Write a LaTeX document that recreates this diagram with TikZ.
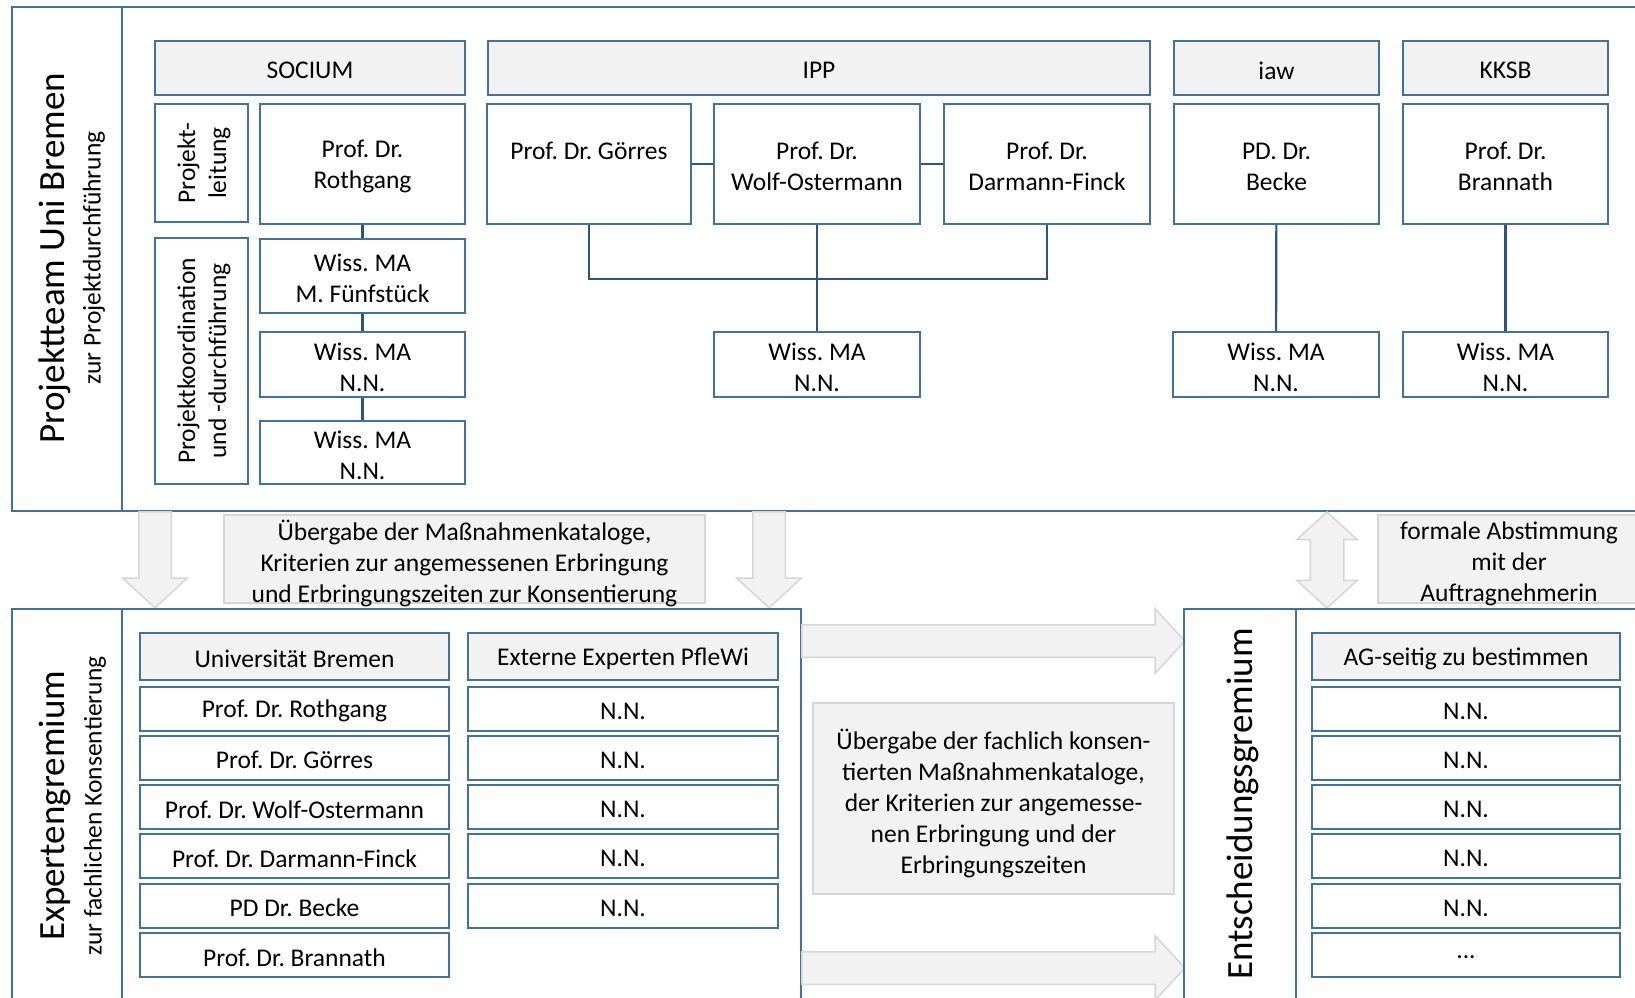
\documentclass[tikz,border=0pt]{standalone}
\usepackage{fontspec}
\setmainfont{Carlito}
\usepackage{tikz}
\usetikzlibrary{positioning,calc,shapes.arrows}
\definecolor{boxblue}{RGB}{65,113,156}
\definecolor{lineblue}{RGB}{44,84,130}
\definecolor{headgray}{RGB}{242,242,242}
\definecolor{edgegray}{RGB}{214,214,214}
\frenchspacing

\begin{document}
\begin{tikzpicture}[
    x=1pt, y=-1pt,
    every node/.style={font=\fontsize{25.5}{31}\selectfont, inner sep=0pt},
    lowtext/.style={execute at begin node={\vbox\bgroup\kern#1\hbox\bgroup},
        execute at end node={\egroup\egroup}},
    box/.style={rectangle, draw=boxblue, line width=2pt, fill=white, align=center, lowtext=5pt},
    headbox/.style={box, fill=headgray},
    rowbox/.style={box, minimum width=309pt, minimum height=44pt},
    rowhead/.style={headbox, minimum width=309pt, minimum height=47pt},
    frame/.style={rectangle, draw=boxblue, line width=2pt, anchor=north west},
    infobox/.style={rectangle, draw=edgegray, line width=1.5pt, fill=headgray, align=center,
        lowtext=9pt, inner ysep=-8pt},
    bigarrow/.style={single arrow, draw=edgegray, line width=1.5pt, fill=headgray, anchor=tail,
        inner xsep=0pt, inner ysep=15.5pt, single arrow head extend=16pt, single arrow tip angle=95},
    link/.style={draw=lineblue, line width=2.2pt},
    sidetitle/.style={rotate=90, font=\fontsize{37}{40}\selectfont},
    sidesub/.style={rotate=90}
]
\useasboundingbox (0,0) rectangle (1635,998);
\clip (0,0) rectangle (1635,998);
\fill[white] (0,0) rectangle (1635,998);

% ============ PROJEKTTEAM (TOP) ============
\node[frame, minimum width=110pt, minimum height=504pt] (teamside) at (11,6) {};
\node[frame, minimum width=1524pt, minimum height=504pt] (teammain) at (121,6) {};
\node[sidetitle] (teamtitle) at (55,258) {Projektteam Uni Bremen};
\node[sidesub] (teamsub) at (94,258) {zur Projektdurchführung};

% SOCIUM
\node[headbox, minimum width=310pt, minimum height=53pt] (socium) at (310,68) {SOCIUM};
\node[box, rotate=90, minimum width=118pt, minimum height=93pt] (leitung) at (201.5,163) {Projekt-\\leitung};
\node[box, rotate=90, minimum width=246pt, minimum height=93pt] (koord) at (201.5,361) {Projektkoordination\\und -durchführung};
\node[box, minimum width=205pt, minimum height=120pt] (roth) at (362.5,164) {Prof. Dr.\\Rothgang};
\node[box, minimum width=205pt, minimum height=74pt] (fuenf) at (362.5,276) {Wiss. MA\\M. Fünfstück};
\node[box, minimum width=205pt, minimum height=65pt] (socnna) at (362.5,364.5) {Wiss. MA\\N.N.};
\node[box, minimum width=205pt, minimum height=63pt] (socnnb) at (362.5,452.5) {Wiss. MA\\N.N.};

% IPP
\node[headbox, minimum width=662pt, minimum height=53pt] (ipp) at (819,68) {IPP};
\node[box, minimum width=204pt, minimum height=120pt] (goerres) at (589,164) {Prof. Dr. Görres\\~};
\node[box, minimum width=206pt, minimum height=120pt] (wolf) at (817,164) {Prof. Dr.\\Wolf-Ostermann};
\node[box, minimum width=206pt, minimum height=120pt] (darmann) at (1047,164) {Prof. Dr.\\Darmann-Finck};
\node[box, minimum width=206pt, minimum height=65pt] (ippnn) at (817,364.5) {Wiss. MA\\N.N.};

% iaw and KKSB
\node[headbox, minimum width=205pt, minimum height=53pt] (iaw) at (1276.5,68) {iaw};
\node[headbox, minimum width=205pt, minimum height=53pt] (kksb) at (1505.5,68) {KKSB};
\node[box, minimum width=205pt, minimum height=120pt] (becke) at (1276.5,164) {PD. Dr.\\Becke};
\node[box, minimum width=205pt, minimum height=120pt] (brannath) at (1505.5,164) {Prof. Dr.\\Brannath};
\node[box, minimum width=206pt, minimum height=65pt] (iawnn) at (1276,364.5) {Wiss. MA\\N.N.};
\node[box, minimum width=205pt, minimum height=65pt] (kksbnn) at (1505.5,364.5) {Wiss. MA\\N.N.};

% Links
\draw[link] (roth) -- (fuenf);
\draw[link] (fuenf) -- (socnna);
\draw[link] (socnna) -- (socnnb);
\draw[link] (goerres) -- (wolf);
\draw[link] (wolf) -- (darmann);
\draw[link] (goerres.south) -- ++(0,54) -| (darmann.south);
\draw[link] (wolf) -- (ippnn);
\draw[link] (becke) -- (iawnn);
\draw[link] (brannath) -- (kksbnn);

% ============ UEBERGABE ============
\node[bigarrow, rotate=-90, minimum height=96pt] (downleft) at (155,511) {};
\node[bigarrow, rotate=-90, minimum height=96pt] (downright) at (769,511) {};
\node[infobox, minimum width=481pt, minimum height=88pt] (handover) at (464.5,559)
    {Übergabe der Maßnahmenkataloge,\\Kriterien zur angemessenen Erbringung\\und Erbringungszeiten zur Konsentierung};
\node[double arrow, draw=edgegray, line width=1.5pt, fill=headgray, rotate=90,
    inner xsep=0pt, inner ysep=16pt, minimum height=96pt, double arrow head extend=13.5pt,
    double arrow tip angle=95] (vote) at (1327,560) {};
\node[infobox, minimum width=262pt, minimum height=88pt] (formal) at (1509,559)
    {formale Abstimmung\\mit der\\Auftragnehmerin};

% ============ EXPERTENGREMIUM (BOTTOM LEFT) ============
\node[frame, minimum width=110pt, minimum height=396pt] (expside) at (11,608) {};
\node[frame, minimum width=679pt, minimum height=396pt] (expmain) at (121,608) {};
\node[sidetitle] (exptitle) at (55,806) {Expertengremium};
\node[sidesub] (expsub) at (95,806) {zur fachlichen Konsentierung};

\node[rowhead] (unihead) at (294.5,656.5) {Universität Bremen};
\foreach \who [count=\i] in {Prof. Dr. Rothgang, Prof. Dr. Görres, Prof. Dr. Wolf-Ostermann,
    Prof. Dr. Darmann-Finck, PD Dr. Becke, Prof. Dr. Brannath}
  \node[rowbox] (uni\i) at (294.5,{659.2+49.3*\i}) {\who};

\node[rowhead, minimum width=310pt] (exthead) at (623,656.5) {Externe Experten PfleWi};
\foreach \i in {1,2,3,4,5}
  \node[rowbox, minimum width=310pt] (ext\i) at (623,{659.2+49.3*\i}) {N.N.};

% ============ ENTSCHEIDUNGSGREMIUM (BOTTOM RIGHT) ============
\node[bigarrow, minimum height=383pt] (passtop) at (801,641) {};
\node[bigarrow, minimum height=383pt] (passbot) at (801,968) {};
\node[infobox, minimum width=361pt, minimum height=191pt] (passtext) at (993.5,798.5)
    {Übergabe der fachlich konsen-\\tierten Maßnahmenkataloge,\\der Kriterien zur angemesse-\\nen Erbringung und der\\Erbringungszeiten};

\node[frame, minimum width=112pt, minimum height=396pt] (decside) at (1183,608) {};
\node[frame, minimum width=350pt, minimum height=396pt] (decmain) at (1295,608) {};
\node[sidetitle] (dectitle) at (1243,804) {Entscheidungsgremium};

\node[rowhead, minimum width=308pt] (aghead) at (1466,656.5) {AG-seitig zu bestimmen};
\foreach \i in {1,2,3,4,5}
  \node[rowbox, minimum width=308pt] (ag\i) at (1466,{659.2+49.3*\i}) {N.N.};
\node[rowbox, minimum width=308pt] (ag6) at (1466,{659.2+49.3*6}) {...};

\end{tikzpicture}
\end{document}
